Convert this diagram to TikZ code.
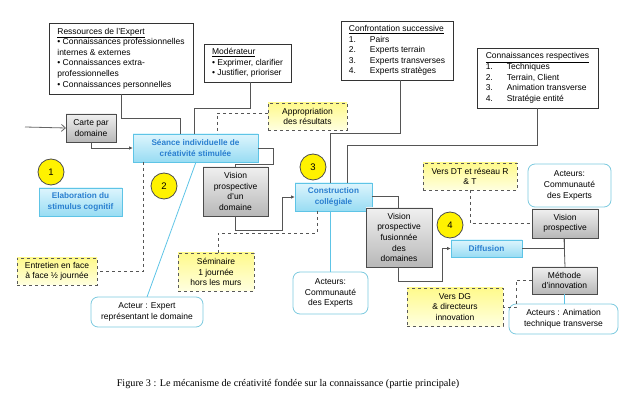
\documentclass[tikz,border=0pt]{standalone}
\usepackage{fontspec}
\setmainfont{Liberation Sans}
\newfontfamily\capfont{Liberation Serif}
\usetikzlibrary{arrows.meta,shadows}
\definecolor{cyanbd}{HTML}{5EC4E6}
\definecolor{cyantop}{HTML}{DDF5FD}
\definecolor{cyanbot}{HTML}{98DCF3}
\definecolor{cyantxt}{HTML}{2A7FD0}
\definecolor{ytop}{HTML}{FFFA8C}
\definecolor{ybot}{HTML}{FFFFE0}
\definecolor{linec}{HTML}{555555}
\definecolor{roundbd}{HTML}{7CCADF}
\tikzset{
  base/.style={anchor=north west, inner sep=2pt, outer sep=0pt, line width=0.8pt, align=center},
  plainbox/.style={base, draw=black!80, fill=white},
  graybox/.style={base, draw=black!70, top color=white!94!black, bottom color=black!28, drop shadow={shadow xshift=1.2pt,shadow yshift=-1.2pt,opacity=0.25}},
  cyanbox/.style={base, draw=cyanbd, top color=cyantop, bottom color=cyanbot, text=cyantxt, font=\fontsize{8.2}{10.6}\selectfont\bfseries, drop shadow={shadow xshift=1.2pt,shadow yshift=-1.2pt,opacity=0.2}},
  yelbox/.style={base, draw=black!65, dashed, top color=ytop, bottom color=ybot},
  rndbox/.style={base, draw=roundbd, rounded corners=7pt, fill=white},
  numc/.style={circle, draw=black!70, fill=yellow, line width=0.8pt, minimum size=26pt, inner sep=0pt, font=\fontsize{9.5}{11}\selectfont},
  conn/.style={draw=linec, line width=0.8pt},
  dconn/.style={draw=linec, line width=0.8pt, dashed},
  cconn/.style={draw=cyanbd, line width=0.8pt},
  arr/.style={-{Latex[length=4pt,width=3.5pt]}}
}
\newcommand{\nl}[1]{\makebox[21pt][l]{#1}}
\begin{document}
\begin{tikzpicture}[x=1pt,y=-1pt,font=\fontsize{8.5}{10.6}\selectfont]
\useasboundingbox (0,0) rectangle (639,411);
% top boxes
\node[plainbox, minimum width=144pt, minimum height=71pt, align=left] (res) at (49,23)
  {\underline{Ressources de l'Expert}\\• Connaissances professionnelles\\internes \& externes\\• Connaissances extra-\\professionnelles\\• Connaissances personnelles};
\node[plainbox, minimum width=87pt, minimum height=38pt, align=left] (mod) at (204,44)
  {\underline{Modérateur}\\• Exprimer, clarifier\\• Justifier, prioriser};
\node[plainbox, minimum width=112pt, minimum height=59pt, align=left] (conf) at (341,21)
  {\underline{Confrontation successive}\\\nl{1.}Pairs\\\nl{2.}Experts terrain\\\nl{3.}Experts transverses\\\nl{4.}Experts stratèges};
\node[plainbox, minimum width=121pt, minimum height=60pt, align=left] (connr) at (477,48)
  {\underline{Connaissances respectives}\\\nl{1.}Techniques\\\nl{2.}Terrain, Client\\\nl{3.}Animation transverse\\\nl{4.}Stratégie entité};
% main flow
\node[graybox, minimum width=50pt, minimum height=28pt] (carte) at (66,114) {Carte par\\domaine};
\node[cyanbox, minimum width=125pt, minimum height=28pt] (seance) at (133,134) {Séance individuelle de\\créativité stimulée};
\node[cyanbox, minimum width=83pt, minimum height=28pt] (elab) at (39,188) {Elaboration du\\stimulus cognitif};
\node[graybox, minimum width=65pt, minimum height=49pt] (vis1) at (203,167) {Vision\\prospective\\d'un\\domaine};
\node[cyanbox, minimum width=77pt, minimum height=28pt] (constr) at (295,183) {Construction\\collégiale};
\node[graybox, minimum width=66pt, minimum height=59pt] (visf) at (366,208) {Vision\\prospective\\fusionnée\\des\\domaines};
\node[cyanbox, minimum width=71pt, minimum height=17pt] (diff) at (451,240) {Diffusion};
\node[graybox, minimum width=66pt, minimum height=29pt] (visr) at (532,209) {Vision\\prospective};
\node[graybox, minimum width=65pt, minimum height=27pt] (meth) at (532,267) {Méthode\\d'innovation};
% yellow notes
\node[yelbox, minimum width=79pt, minimum height=27pt] (approp) at (268,103) {Appropriation\\des résultats};
\node[yelbox, minimum width=80pt, minimum height=27pt] (entre) at (17,258) {Entretien en face\\à face ½ journée};
\node[yelbox, minimum width=76pt, minimum height=38pt] (semi) at (178,253) {Séminaire\\1 journée\\hors les murs};
\node[yelbox, minimum width=94pt, minimum height=27pt] (versdt) at (423,163) {Vers DT et réseau R\\\& T};
\node[yelbox, minimum width=96pt, minimum height=38pt] (versdg) at (407,288) {Vers DG\\\& directeurs\\innovation};
% actors
\node[rndbox, minimum width=112pt, minimum height=30pt] (actexp) at (91,297) {Acteur : Expert\\représentant le domaine};
\node[rndbox, minimum width=75pt, minimum height=42pt] (actc) at (293,272) {Acteurs:\\Communauté\\des Experts};
\node[rndbox, minimum width=83pt, minimum height=43pt] (actr) at (528,164) {Acteurs:\\Communauté\\des Experts};
\node[rndbox, minimum width=109pt, minimum height=30pt] (acta) at (509,304) {Acteurs : Animation\\technique transverse};
% numbers
\node[numc] (n1) at (51,172) {1};
\node[numc] (n2) at (164,186) {2};
\node[numc] (n3) at (313,167) {3};
\node[numc] (n4) at (450,225) {4};
% connectors
\coordinate (inp) at (25,127);
\draw[conn, draw=black!60, -{Straight Barb[length=4pt,width=7pt]}] (inp) -- (carte.west);
\draw[conn, arr] (carte.south) |- (seance.west);
\draw[conn] (res.south) -- ++(0,24) -| ([xshift=-15.5pt]seance.north);
\draw[conn] ([xshift=2.5pt]mod.south) -- ++(0,26) -| ([xshift=-1.5pt]seance.north);
\draw[dconn] ([yshift=3.5pt]approp.west) -| ([xshift=21.5pt]seance.north);
\draw[conn] (seance.east) -| ++(15,16) -| (vis1.north);
\draw[conn, arr] (vis1.south) -- ++(0,14) -| ([xshift=-13pt]constr.west) -- (constr.west);
\draw[dconn] ([xshift=-52.5pt]seance.south) |- (entre.east);
\draw[dconn] ([xshift=2pt]semi.north) -- ++(0,-20) -| ([xshift=-16.5pt]constr.south);
\draw[cconn] ([xshift=0.5pt]seance.south) -- (actexp.north);
\draw[cconn] (constr.south -| actc.north) -- (actc.north);
\draw[conn] ([xshift=3pt]conf.south) -- ++(0,53) -| ([xshift=-3.5pt]constr.north);
\draw[conn] (connr.south) -- ++(0,37) -| ([xshift=14pt]constr.north);
\draw[conn] ([yshift=1pt]constr.east) -| ([xshift=-1pt]visf.north);
\draw[conn, arr] ([xshift=-1pt]visf.south) -- ++(0,14) -| ([xshift=-9pt]diff.west) -- (diff.west);
\draw[dconn] (versdt.south) |- (visr.west);
\draw[conn] (diff.east) -| ([xshift=-1pt]visr.south);
\draw[conn] ([xshift=-1pt]visr.south) -- (visr.south |- meth.north);
\draw[cconn] (meth.south) -- (meth.south |- acta.north);
\draw[dconn] (meth.west) -- ++(-16,0) |- (versdg.east);
% caption
\node[font=\capfont\fontsize{10.2}{12}\selectfont] (cap) at (288,384) {Figure 3 : Le mécanisme de créativité fondée sur la connaissance (partie principale)};
\end{tikzpicture}
\end{document}
